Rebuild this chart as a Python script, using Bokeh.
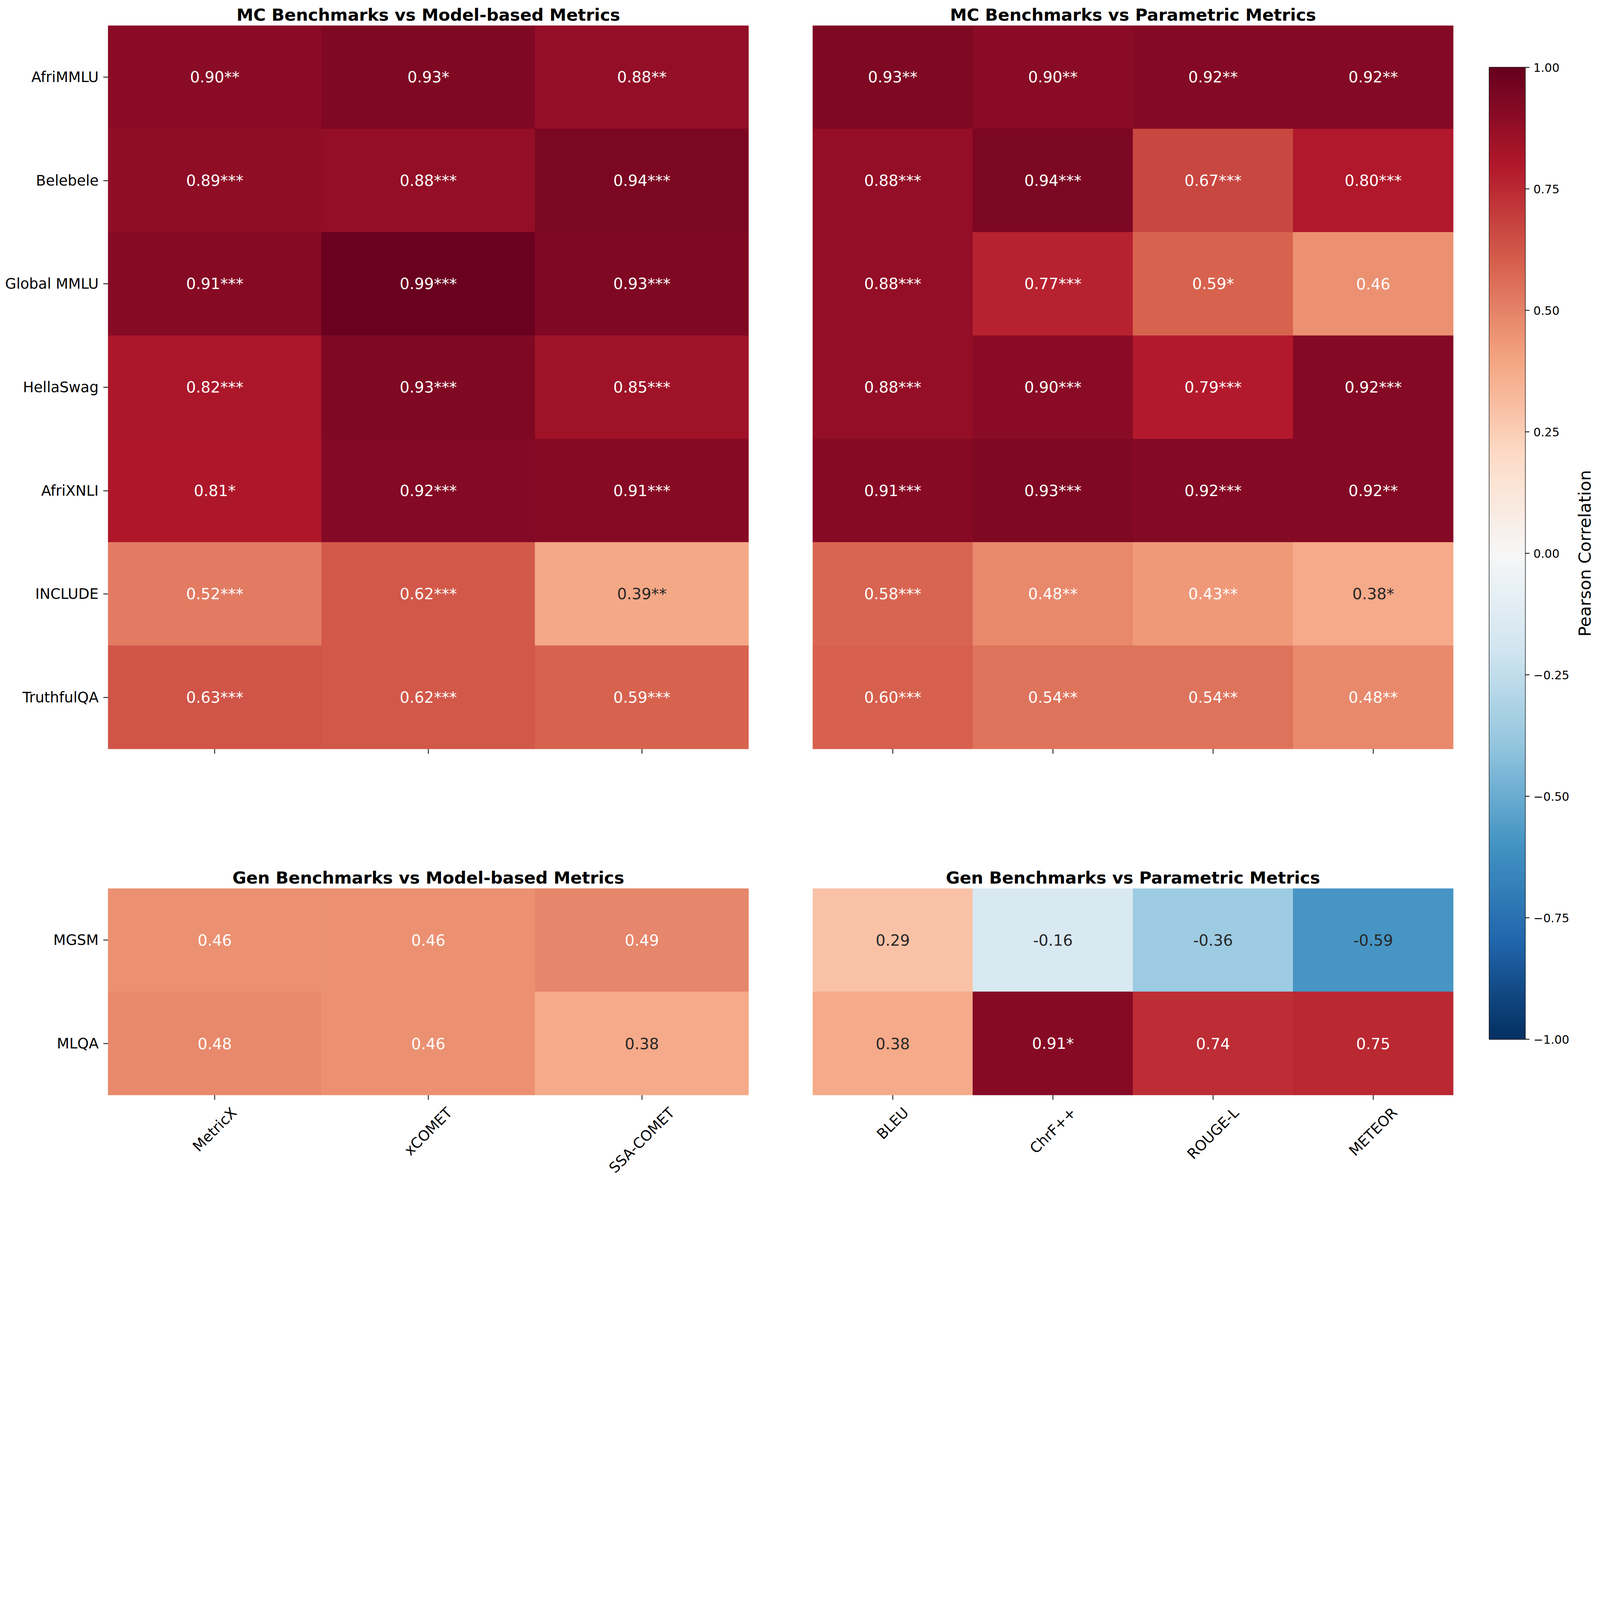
import numpy as np
from bokeh.plotting import figure
from bokeh.models import (FactorRange, LinearColorMapper, ColumnDataSource, FixedTicker,
                          CustomJSTickFormatter, Range1d)
from bokeh.layouts import row, column
from bokeh.embed import file_html
from bokeh.resources import INLINE
from bokeh.core.properties import value

# ---------------- data ----------------
mc_benchmarks = ["AfriMMLU", "Belebele", "Global MMLU", "HellaSwag", "AfriXNLI", "INCLUDE", "TruthfulQA"]
gen_benchmarks = ["MGSM", "MLQA"]
model_metrics = ["MetricX", "xCOMET", "SSA-COMET"]
param_metrics = ["BLEU", "ChrF++", "ROUGE-L", "METEOR"]

mc_model_r = [
    [0.90, 0.93, 0.88],
    [0.89, 0.88, 0.94],
    [0.91, 0.99, 0.93],
    [0.82, 0.93, 0.85],
    [0.81, 0.92, 0.91],
    [0.52, 0.62, 0.39],
    [0.63, 0.62, 0.59],
]
mc_model_sig = [
    ["**", "*", "**"],
    ["***", "***", "***"],
    ["***", "***", "***"],
    ["***", "***", "***"],
    ["*", "***", "***"],
    ["***", "***", "**"],
    ["***", "***", "***"],
]
mc_param_r = [
    [0.93, 0.90, 0.92, 0.92],
    [0.88, 0.94, 0.67, 0.80],
    [0.88, 0.77, 0.59, 0.46],
    [0.88, 0.90, 0.79, 0.92],
    [0.91, 0.93, 0.92, 0.92],
    [0.58, 0.48, 0.43, 0.38],
    [0.60, 0.54, 0.54, 0.48],
]
mc_param_sig = [
    ["**", "**", "**", "**"],
    ["***", "***", "***", "***"],
    ["***", "***", "*", ""],
    ["***", "***", "***", "***"],
    ["***", "***", "***", "**"],
    ["***", "**", "**", "*"],
    ["***", "**", "**", "**"],
]
gen_model_r = [
    [0.46, 0.46, 0.49],
    [0.48, 0.46, 0.38],
]
gen_model_sig = [
    ["", "", ""],
    ["", "", ""],
]
gen_param_r = [
    [0.29, -0.16, -0.36, -0.59],
    [0.38, 0.91, 0.74, 0.75],
]
gen_param_sig = [
    ["", "", "", ""],
    ["", "*", "", ""],
]
colorbar_ticks = [-1.0, -0.75, -0.5, -0.25, 0.0, 0.25, 0.5, 0.75, 1.0]
colorbar_label = "Pearson Correlation"

# ---------------- style ----------------
FONT = "DejaVu Sans"
TITLE_SIZE = 43.3
ANNOT_SIZE = 39.3
TICK_SIZE = 37
CB_TICK_SIZE = 30
CB_LABEL_SIZE = 43.5

RDBU_R = ["#053061", "#2166ac", "#4393c3", "#92c5de", "#d1e5f0", "#f7f7f7",
          "#fddbc7", "#f4a582", "#d6604d", "#b2182b", "#67001f"]

# approximate DejaVu Sans advance widths (em) used to centre rotated tick labels
CHAR_W = {"M": .863, "e": .615, "t": .392, "r": .411, "i": .278, "c": .550, "X": .685,
          "x": .592, "C": .698, "O": .787, "E": .632, "T": .611, "S": .635, "A": .684,
          "-": .361, "B": .686, "L": .557, "U": .732, "h": .634, "F": .575, "f": .352,
          "+": .838, "R": .695, "G": .775}


def text_width(s, size):
    return sum(CHAR_W.get(ch, 0.6) for ch in s) * size


def build_palette(anchors, n=256):
    rgb = np.array([[int(h[i:i + 2], 16) for i in (1, 3, 5)] for h in anchors], float)
    pos = np.linspace(0, 1, len(anchors))
    out = []
    for t in np.linspace(0, 1, n):
        c = [int(round(np.interp(t, pos, rgb[:, k]))) for k in range(3)]
        out.append("#%02x%02x%02x" % tuple(c))
    return out


PALETTE = build_palette(RDBU_R)
mapper = LinearColorMapper(palette=PALETTE, low=-1, high=1)


def style_axis(ax, label_size, standoff, tick_out=12):
    ax.axis_line_color = None
    ax.major_tick_out = tick_out
    ax.major_tick_in = 0
    ax.major_tick_line_width = 2
    ax.major_tick_line_color = "black"
    ax.minor_tick_line_color = None
    ax.major_label_text_font = FONT
    ax.major_label_text_font_size = f"{label_size}px"
    ax.major_label_text_color = "black"
    ax.major_label_standoff = standoff


def bare(fig):
    fig.xaxis.visible = False
    fig.yaxis.visible = False
    fig.grid.visible = False
    fig.outline_line_color = None
    fig.border_fill_color = "white"


def heatmap(rows, cols, r, sig, title, width, height, mb, show_y):
    xs, ys, vals, labels, tcolors = [], [], [], [], []
    for i, rname in enumerate(rows):
        for j, cname in enumerate(cols):
            v = r[i][j]
            xs.append(cname)
            ys.append(rname)
            vals.append(v)
            labels.append(f"{v:.2f}{sig[i][j]}")
            tcolors.append("white" if v > 0.40 else "#262626")
    src = ColumnDataSource(dict(x=xs, y=ys, r=vals, label=labels, tc=tcolors))
    p = figure(width=width, height=height,
               x_range=FactorRange(factors=list(cols)),
               y_range=FactorRange(factors=list(rows)[::-1]),
               output_backend="svg", toolbar_location=None, title=title,
               min_border_left=mb[0], min_border_right=mb[1],
               min_border_top=mb[2], min_border_bottom=mb[3])
    p.rect(x="x", y="y", width=1, height=1, source=src,
           fill_color={"field": "r", "transform": mapper},
           line_color={"field": "r", "transform": mapper}, line_width=1)
    p.text(x="x", y="y", text="label", source=src, text_color={"field": "tc"},
           text_align="center", text_baseline="middle",
           text_font=value(FONT), text_font_size=value(f"{ANNOT_SIZE}px"))
    p.title.text_font = FONT
    p.title.text_font_size = f"{TITLE_SIZE}px"
    p.title.text_font_style = "bold"
    p.title.text_color = "black"
    p.title.align = "center"
    p.title.standoff = 5
    p.grid.visible = False
    p.outline_line_color = None
    p.background_fill_color = "white"
    p.border_fill_color = "white"
    style_axis(p.xaxis[0], TICK_SIZE, 0)
    style_axis(p.yaxis[0], TICK_SIZE, 12)
    # the x axis only draws tick marks; names are drawn rotated in a strip below
    p.xaxis.major_label_text_color = None
    p.xaxis.major_label_text_font_size = "0px"
    if not show_y:
        p.yaxis.visible = False
    return p


def label_strip(src_fig, cols, width, mb_left, mb_right, height, top_off):
    s = figure(width=width, height=height, x_range=src_fig.x_range,
               y_range=Range1d(-(top_off + height), -top_off),
               output_backend="svg", toolbar_location=None,
               min_border_left=mb_left, min_border_right=mb_right,
               min_border_top=0, min_border_bottom=0)
    bare(s)
    s45 = np.sin(np.pi / 4)
    centres = [-(29 + (text_width(c, TICK_SIZE) + 0.73 * TICK_SIZE) * s45 / 2) for c in cols]
    lsrc = ColumnDataSource(dict(x=list(cols), y=centres, text=list(cols)))
    s.text(x="x", y="y", text="text", source=lsrc, angle=np.pi / 4,
           text_align="center", text_baseline="middle", text_color="black",
           text_font=value(FONT), text_font_size=value(f"{TICK_SIZE}px"))
    return s


tl = heatmap(mc_benchmarks, model_metrics, mc_model_r, mc_model_sig,
             "MC Benchmarks vs Model-based Metrics", 1998, 2097, (276, 82, 65, 180), True)
tr = heatmap(mc_benchmarks, param_metrics, mc_param_r, mc_param_sig,
             "MC Benchmarks vs Parametric Metrics", 1766, 2097, (82, 44, 65, 180), False)
bl = heatmap(gen_benchmarks, model_metrics, gen_model_r, gen_model_sig,
             "Gen Benchmarks vs Model-based Metrics", 1998, 728, (276, 82, 177, 22), True)
br = heatmap(gen_benchmarks, param_metrics, gen_param_r, gen_param_sig,
             "Gen Benchmarks vs Parametric Metrics", 1766, 728, (82, 44, 177, 22), False)
bl_lab = label_strip(bl, model_metrics, 1998, 276, 82, 193, 22)
br_lab = label_strip(br, param_metrics, 1766, 82, 44, 193, 22)

# ---------------- colorbar ----------------
cb = figure(width=256, height=3018, x_range=Range1d(0, 1), y_range=Range1d(-1, 1),
            output_backend="svg", toolbar_location=None, y_axis_location="right",
            min_border_left=48, min_border_right=115, min_border_top=172, min_border_bottom=358)
grad = np.linspace(-1, 1, 256).reshape(256, 1)
cb.image(image=[grad], x=0, y=-1, dw=1, dh=2, color_mapper=mapper)
cb.xaxis.visible = False
cb.grid.visible = False
cb.outline_line_color = "black"
cb.outline_line_width = 2
cb.border_fill_color = "white"
ya = cb.yaxis[0]
ya.ticker = FixedTicker(ticks=colorbar_ticks)
ya.formatter = CustomJSTickFormatter(code="return tick.toFixed(2).replace('-', '\\u2212');")
style_axis(ya, CB_TICK_SIZE, 10, tick_out=11)

# colorbar title, reading bottom-to-top, centred on the bar
cbl = figure(width=62, height=3018, x_range=Range1d(0, 62), y_range=Range1d(-1, 1),
             output_backend="svg", toolbar_location=None,
             min_border_left=0, min_border_right=0, min_border_top=172, min_border_bottom=358)
bare(cbl)
cbl.text(x=[36], y=[0], text=[colorbar_label], angle=np.pi / 2,
         text_align="center", text_baseline="middle", text_color="black",
         text_font=value(FONT), text_font_size=value(f"{CB_LABEL_SIZE}px"))

layout = row(column(row(tl, tr), row(column(bl, bl_lab), column(br, br_lab))), cb, cbl)
open("out.html", "w").write(file_html(layout, INLINE))
